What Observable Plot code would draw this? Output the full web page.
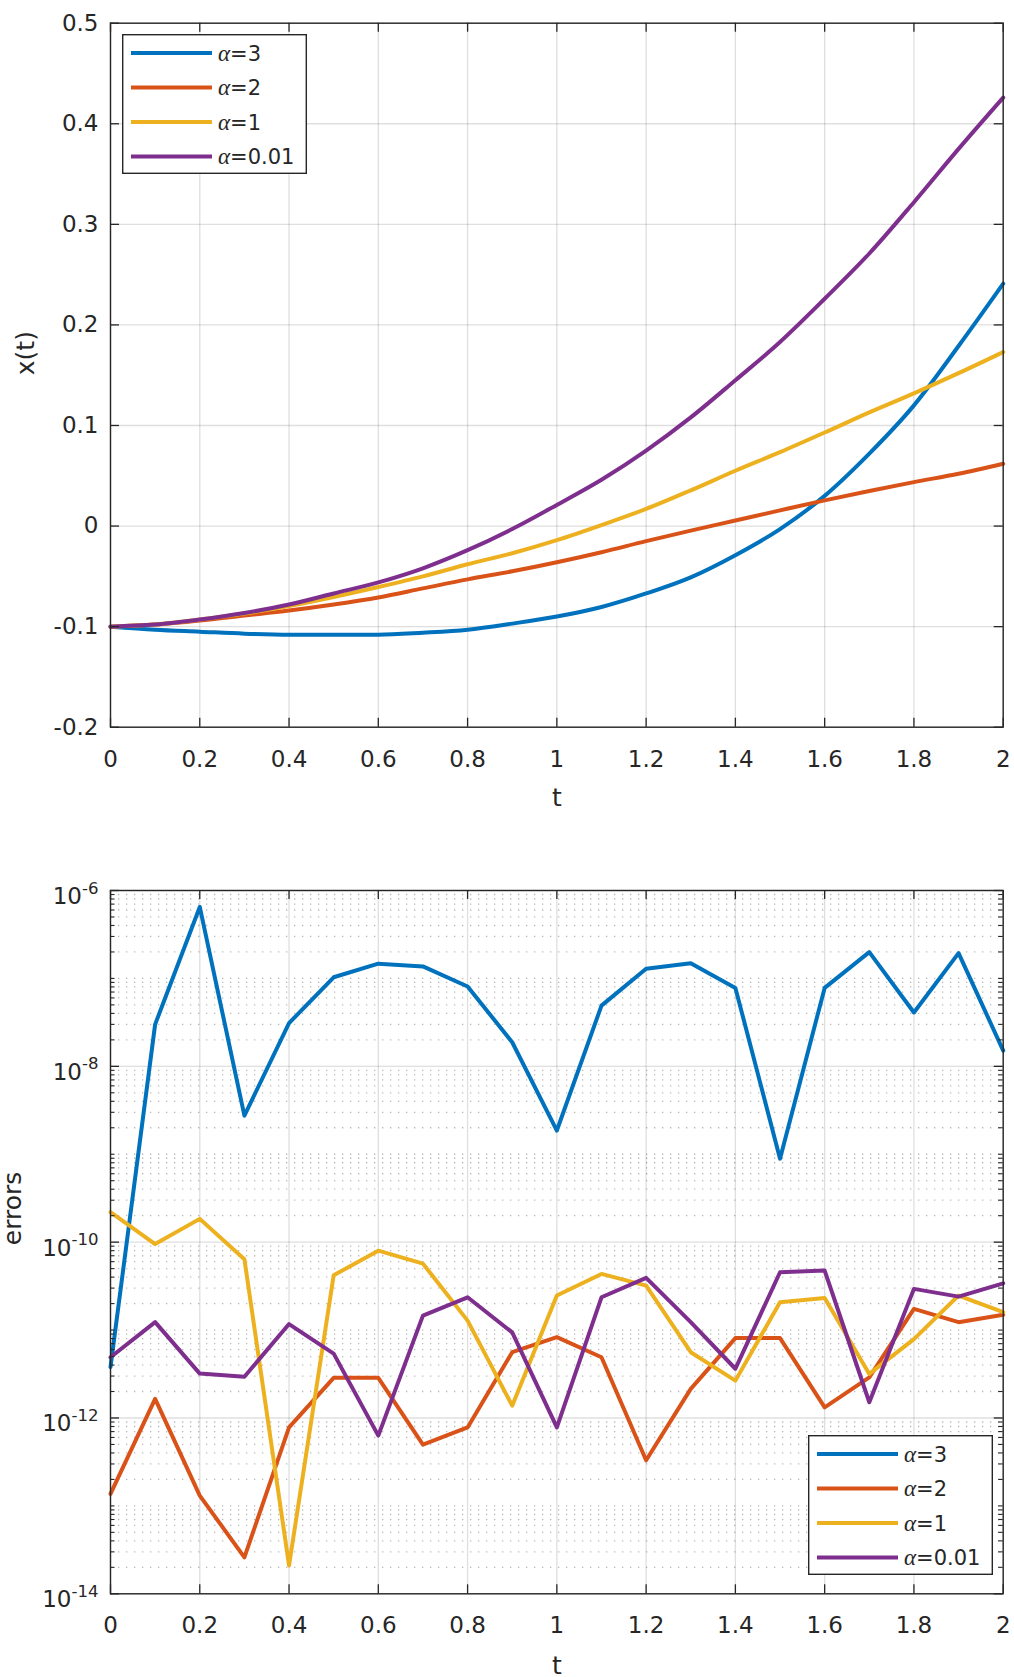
<!DOCTYPE html>
<html>
<head>
<meta charset="utf-8">
<script src="https://cdn.jsdelivr.net/npm/d3@7"></script>
<script src="https://cdn.jsdelivr.net/npm/@observablehq/plot@0.6"></script>
<style>
  body { margin: 0; background: #fff; }
  #fig { position: relative; width: 1014px; height: 1677px; font-family: "DejaVu Sans", sans-serif; }
  #fig > svg { display: block; }
  #fig svg.legend { position: absolute; overflow: visible; }
</style>
</head>
<body>
<div id="fig"></div>
<script>
// Time grid
const t = [0, 0.1, 0.2, 0.3, 0.4, 0.5, 0.6, 0.7, 0.8, 0.9, 1.0,
           1.1, 1.2, 1.3, 1.4, 1.5, 1.6, 1.7, 1.8, 1.9, 2.0];

// Series names and colours
const seriesLabels = ["α=3", "α=2", "α=1", "α=0.01"];
const seriesColors = ["#0072BD", "#D95319", "#EDB120", "#7E2F8E"];

// Solutions x(t)
const xAlpha3 = [-0.100, -0.103, -0.105, -0.107, -0.108, -0.108, -0.108, -0.106, -0.103, -0.097, -0.090,
                 -0.0805, -0.067, -0.051, -0.029, -0.003, 0.030, 0.072, 0.120, 0.179, 0.241];
const xAlpha2 = [-0.100, -0.098, -0.094, -0.089, -0.084, -0.078, -0.071, -0.062, -0.053, -0.045, -0.036,
                 -0.026, -0.015, -0.0045, 0.0055, 0.0156, 0.0255, 0.0348, 0.0437, 0.052, 0.062];
const xAlpha1 = [-0.100, -0.098, -0.093, -0.087, -0.0795, -0.0705, -0.0606, -0.050, -0.038, -0.027, -0.014,
                 0.001, 0.017, 0.0355, 0.055, 0.0735, 0.093, 0.113, 0.132, 0.152, 0.173];
const xAlpha001 = [-0.100, -0.098, -0.093, -0.0865, -0.078, -0.067, -0.056, -0.042, -0.024, -0.003, 0.021,
                   0.046, 0.075, 0.108, 0.145, 0.183, 0.226, 0.271, 0.322, 0.375, 0.426];

// Absolute errors
const errAlpha3 = [3.8e-12, 3.0e-8, 6.5e-7, 2.75e-9, 3.1e-8, 1.03e-7, 1.47e-7, 1.37e-7, 8.1e-8, 1.88e-8, 1.86e-9,
                   4.9e-8, 1.29e-7, 1.49e-7, 7.8e-8, 8.9e-10, 7.8e-8, 1.99e-7, 4.1e-8, 1.94e-7, 1.51e-8];
const errAlpha2 = [1.37e-13, 1.65e-12, 1.31e-13, 2.6e-14, 7.8e-13, 2.86e-12, 2.86e-12, 4.98e-13, 7.8e-13, 5.6e-12, 8.3e-12,
                   4.9e-12, 3.3e-13, 2.14e-12, 8.1e-12, 8.1e-12, 1.32e-12, 2.9e-12, 1.74e-11, 1.23e-11, 1.49e-11];
const errAlpha1 = [2.19e-10, 9.5e-11, 1.84e-10, 6.4e-11, 2.1e-14, 4.2e-11, 8.0e-11, 5.7e-11, 1.28e-11, 1.38e-12, 2.47e-11,
                   4.35e-11, 3.2e-11, 5.6e-12, 2.66e-12, 2.07e-11, 2.32e-11, 3.17e-12, 7.9e-12, 2.47e-11, 1.6e-11];
const errAlpha001 = [4.9e-12, 1.23e-11, 3.2e-12, 2.95e-12, 1.17e-11, 5.4e-12, 6.3e-13, 1.46e-11, 2.36e-11, 9.4e-12, 7.8e-13,
                     2.36e-11, 3.93e-11, 1.23e-11, 3.63e-12, 4.55e-11, 4.75e-11, 1.51e-12, 2.94e-11, 2.4e-11, 3.4e-11];

// Tick values
const tTicks = [0, 0.2, 0.4, 0.6, 0.8, 1.0, 1.2, 1.4, 1.6, 1.8, 2.0];
const xTicks = [-0.2, -0.1, 0, 0.1, 0.2, 0.3, 0.4, 0.5];
const errTicks = [1e-14, 1e-12, 1e-10, 1e-8, 1e-6];
const errDecades = [-14, -13, -12, -11, -10, -9, -8, -7];

// Minor log grid: 1..9 × 10^k inside each decade, minus the labelled decades
const errMinor = [];
for (const k of errDecades) {
  for (let m = 1; m <= 9; m++) {
    const v = m * Math.pow(10, k);
    if (m === 1 && errTicks.some(e => Math.abs(Math.log10(e) - k) < 1e-9)) continue;
    errMinor.push(v);
  }
}

// Long-format tables
const toRows = (lists) => lists.flatMap((vals, i) => vals.map((v, j) => ({t: t[j], v, series: seriesLabels[i]})));
const solRows = toRows([xAlpha3, xAlpha2, xAlpha1, xAlpha001]);
const errRows = toRows([errAlpha3, errAlpha2, errAlpha1, errAlpha001]);

// Layout
const W = 1014;
const topL = {height: 838, ml: 110, mr: 11.3, mt: 22.7, mb: 111.3};
const botL = {height: 839, ml: 110, mr: 11.3, mt: 52, mb: 83.7};
const frameW = (L) => W - L.ml - L.mr;
const frameH = (L) => L.height - L.mt - L.mb;
const majorTick = 9, minorTick = 4.5;
const lineW = 4;

const ink = "#262626";
const plotStyle = {fontFamily: '"DejaVu Sans", sans-serif', fontSize: "23px", color: ink, background: "white", overflow: "visible"};
const fmt = d => String(+(+d).toFixed(1));
const color = {domain: seriesLabels, range: seriesColors};

function boxTicks(L, xt, yt, yMinor) {
  const fw = frameW(L), fh = frameH(L);
  const marks = [
    Plot.tickX(xt, {x: d => d, insetTop: fh - majorTick, stroke: ink, strokeWidth: 1.3}),
    Plot.tickX(xt, {x: d => d, insetBottom: fh - majorTick, stroke: ink, strokeWidth: 1.3}),
    Plot.tickY(yt, {y: d => d, insetRight: fw - majorTick, stroke: ink, strokeWidth: 1.3}),
    Plot.tickY(yt, {y: d => d, insetLeft: fw - majorTick, stroke: ink, strokeWidth: 1.3})
  ];
  if (yMinor) {
    marks.push(
      Plot.tickY(yMinor, {y: d => d, insetRight: fw - minorTick, stroke: ink, strokeWidth: 1.1}),
      Plot.tickY(yMinor, {y: d => d, insetLeft: fw - minorTick, stroke: ink, strokeWidth: 1.1})
    );
  }
  return marks;
}

// Upper panel: x(t)
const solPlot = Plot.plot({
  width: W, height: topL.height,
  marginLeft: topL.ml, marginRight: topL.mr, marginTop: topL.mt, marginBottom: topL.mb,
  style: plotStyle,
  x: {domain: [0, 2]},
  y: {domain: [-0.2, 0.5]},
  color,
  marks: [
    Plot.gridX(tTicks, {stroke: ink, strokeOpacity: 0.15, strokeWidth: 1.3}),
    Plot.gridY(xTicks, {stroke: ink, strokeOpacity: 0.15, strokeWidth: 1.3}),
    Plot.line(solRows, {x: "t", y: "v", z: "series", stroke: "series", strokeWidth: lineW, curve: "monotone-x"}),
    Plot.frame({stroke: ink, strokeWidth: 1.4}),
    ...boxTicks(topL, tTicks, xTicks),
    Plot.axisX({ticks: tTicks, tickSize: 0, tickPadding: 23, tickFormat: fmt, label: null}),
    Plot.axisY({ticks: xTicks, tickSize: 0, tickPadding: 12, tickFormat: fmt, label: null}),
    Plot.text(["t"], {frameAnchor: "bottom", dy: 71, fontSize: 25, lineAnchor: "middle", fill: ink}),
    Plot.text(["x(t)"], {frameAnchor: "left", dx: -85, rotate: -90, fontSize: 25, lineAnchor: "middle", fill: ink})
  ]
});

// Lower panel: errors on a log axis
const errPlot = Plot.plot({
  width: W, height: botL.height,
  marginLeft: botL.ml, marginRight: botL.mr, marginTop: botL.mt, marginBottom: botL.mb,
  style: plotStyle,
  x: {domain: [0, 2]},
  y: {type: "log", domain: [1e-14, 1e-6]},
  color,
  marks: [
    Plot.ruleY(errMinor, {y: d => d, stroke: ink, strokeOpacity: 0.32, strokeWidth: 1.3, strokeDasharray: "1.3,6.7"}),
    Plot.gridX(tTicks, {stroke: ink, strokeOpacity: 0.15, strokeWidth: 1.3}),
    Plot.gridY(errTicks, {stroke: ink, strokeOpacity: 0.15, strokeWidth: 1.3}),
    Plot.line(errRows, {x: "t", y: "v", z: "series", stroke: "series", strokeWidth: lineW}),
    Plot.frame({stroke: ink, strokeWidth: 1.4}),
    ...boxTicks(botL, tTicks, errTicks, errMinor),
    Plot.axisX({ticks: tTicks, tickSize: 0, tickPadding: 23, tickFormat: fmt, label: null}),
    Plot.axisY({ticks: errTicks, tickSize: 0, tickPadding: 12, dy: 6, label: null,
                tickFormat: d => `10^${Math.round(Math.log10(d))}`}),
    Plot.text(["t"], {frameAnchor: "bottom", dy: 72, fontSize: 25, lineAnchor: "middle", fill: ink}),
    Plot.text(["errors"], {frameAnchor: "left", dx: -98, dy: 3, rotate: -90, fontSize: 25, lineAnchor: "middle", fill: ink})
  ]
});

// Powers of ten with raised exponents
d3.select(errPlot).selectAll('g[aria-label="y-axis tick label"] text').each(function () {
  const [base, exp] = this.textContent.split("^");
  this.textContent = "";
  const sel = d3.select(this);
  sel.append("tspan").text(base);
  sel.append("tspan").attr("font-size", "0.72em").attr("dy", "-0.62em").text(exp);
});

const fig = document.getElementById("fig");
fig.append(solPlot, errPlot);

// Boxed legends
function addLegend(pos) {
  const w = 185, h = 140, row0 = 19, step = 34.5;
  const svg = d3.select(fig).append("svg")
    .attr("class", "legend")
    .attr("width", w).attr("height", h)
    .style("left", pos.left + "px").style("top", pos.top + "px")
    .style("font-family", '"DejaVu Sans", sans-serif').style("font-size", "21px");
  svg.append("rect")
    .attr("x", 0.7).attr("y", 0.7).attr("width", w - 1.4).attr("height", h - 1.4)
    .attr("fill", "white").attr("stroke", ink).attr("stroke-width", 1.4);
  seriesLabels.forEach((lab, i) => {
    const y = row0 + i * step;
    svg.append("line")
      .attr("x1", 9).attr("x2", 90).attr("y1", y).attr("y2", y)
      .attr("stroke", seriesColors[i]).attr("stroke-width", lineW);
    const [sym, val] = lab.split("=");
    const txt = svg.append("text").attr("x", 96).attr("y", y).attr("dy", "0.36em").attr("fill", ink);
    txt.append("tspan").attr("font-family", '"Liberation Serif", serif').attr("font-style", "italic").attr("font-size", "23px").text(sym);
    txt.append("tspan").text("=" + val);
  });
}
addLegend({left: 122, top: 34});
addLegend({left: 808, top: 1435});
</script>
</body>
</html>
